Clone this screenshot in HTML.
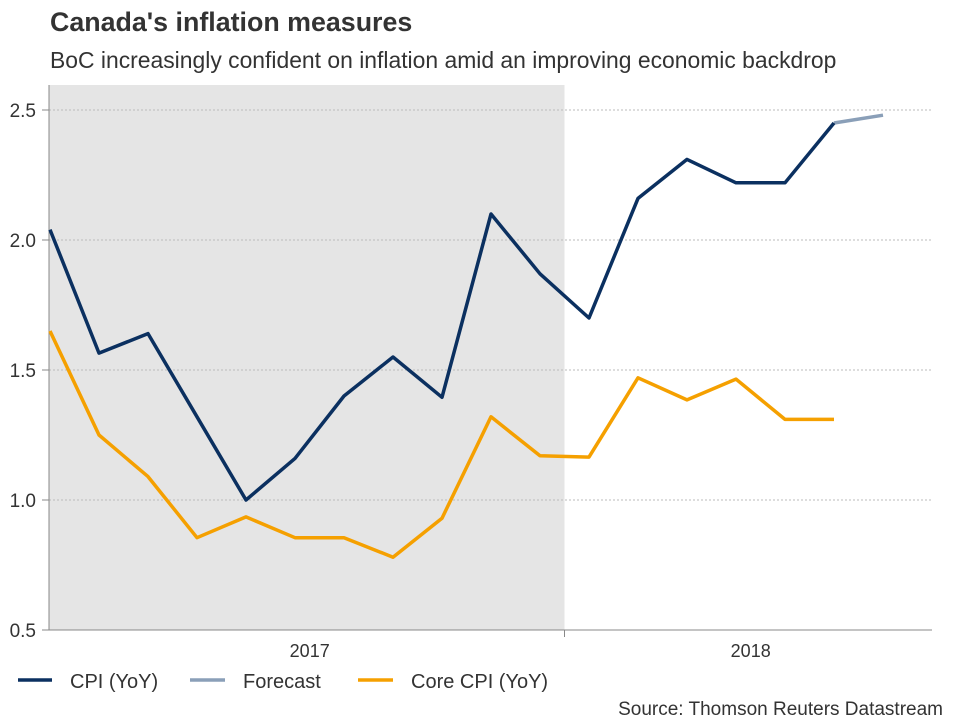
<!DOCTYPE html>
<html><head><meta charset="utf-8"><style>
body{margin:0;background:#fff;font-family:"Liberation Sans",sans-serif;}
svg text{font-family:"Liberation Sans",sans-serif;}
</style></head><body>
<svg width="960" height="720" xmlns="http://www.w3.org/2000/svg">
<text x="50" y="31" font-size="26.8" font-weight="bold" fill="#333">Canada's inflation measures</text>
<text x="50" y="68" font-size="22.9" fill="#333">BoC increasingly confident on inflation amid an improving economic backdrop</text>
<g id="plot"></g>
<g>
<line x1="18" y1="680" x2="52" y2="680" stroke="#0b3060" stroke-width="3.5"/>
<text x="70" y="688" font-size="20" fill="#333">CPI (YoY)</text>
<line x1="190" y1="680" x2="225" y2="680" stroke="#8a9fb8" stroke-width="3.5"/>
<text x="243" y="688" font-size="20" fill="#333">Forecast</text>
<line x1="358" y1="680" x2="393" y2="680" stroke="#f5a000" stroke-width="3.5"/>
<text x="411" y="688" font-size="20" fill="#333">Core CPI (YoY)</text>
</g>
<text x="943" y="715" font-size="19" fill="#333" text-anchor="end">Source: Thomson Reuters Datastream</text>
</svg>
<script>
const cpi=[2.04,1.565,1.64,1.32,1.0,1.16,1.4,1.55,1.395,2.1,1.87,1.7,2.16,2.31,2.22,2.22,2.45];
const forecast=[2.45,2.48];
const core=[1.65,1.25,1.09,0.855,0.935,0.855,0.855,0.78,0.93,1.32,1.17,1.165,1.47,1.385,1.465,1.31,1.31];
const yTicks=[0.5,1.0,1.5,2.0,2.5];
const yearLabels=["2017","2018"];
const yearMid=[5.3,14.3];
const NS="http://www.w3.org/2000/svg";
const g=document.getElementById('plot');
const X=i=>50+i*49, Y=v=>110+(2.5-v)*260;
function mk(t,a){const e=document.createElementNS(NS,t);for(const k in a)e.setAttribute(k,a[k]);g.appendChild(e);return e;}
let r=mk('rect',{x:49,y:85,width:X(10.5)-49,height:630-85,fill:'#e5e5e5'});


yTicks.forEach(v=>{
 if(v>0.5){let l=mk('line',{x1:49,x2:932,y1:Y(v),y2:Y(v),stroke:'#bbb','stroke-dasharray':'2,2'});
 
 }
 mk('line',{x1:42,x2:49,y1:Y(v),y2:Y(v),stroke:'#888'});
 let t=mk('text',{x:36,y:Y(v)+7,'font-size':19,fill:'#333','text-anchor':'end'});t.textContent=v.toFixed(1);
 
 
});
mk('line',{x1:49,x2:49,y1:85,y2:630,stroke:'#888'});
mk('line',{x1:49,x2:932,y1:630,y2:630,stroke:'#888'});
mk('line',{x1:X(10.5),x2:X(10.5),y1:630,y2:637,stroke:'#888'});
yearLabels.forEach((s,i)=>{let t=mk('text',{x:X(yearMid[i]),y:657,'font-size':18,fill:'#333','text-anchor':'middle'});t.textContent=s;
 
 });
function line(arr,off,col,name){let p=mk('polyline',{points:arr.map((v,i)=>X(i+off)+','+Y(v)).join(' '),fill:'none',stroke:col,'stroke-width':3.5,'stroke-linejoin':'round'});
 
 }
line(core,0,'#f5a000','core-cpi-line');
line(forecast,16,'#8a9fb8','forecast-line');
line(cpi,0,'#0b3060','cpi-line');
</script>
</body></html>
